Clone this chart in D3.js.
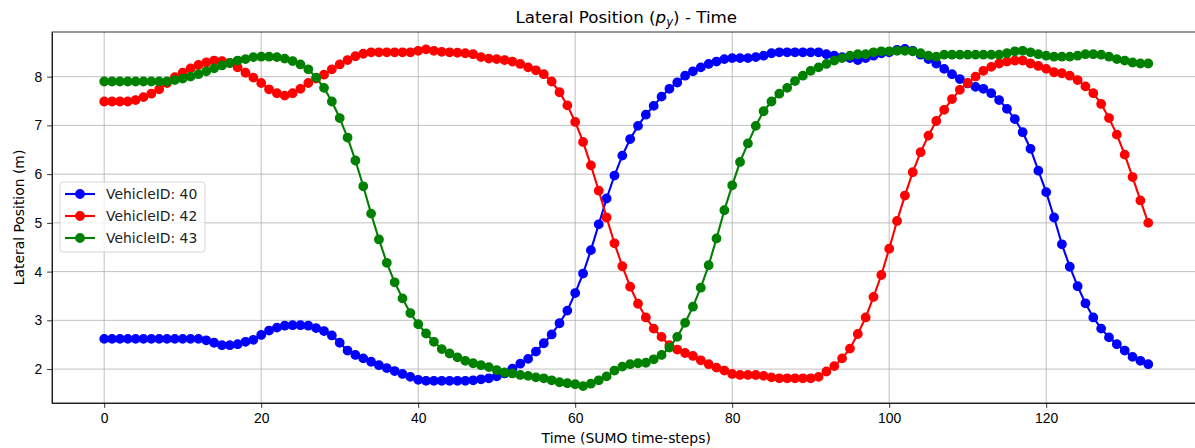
<!DOCTYPE html>
<html>
<head>
<meta charset="utf-8">
<script src="https://cdn.jsdelivr.net/npm/d3@7/dist/d3.min.js"></script>
<style>
    body { margin: 0; background: #fff; }
    svg { display: block; font-family: "DejaVu Sans", sans-serif; }
    .grid line { stroke: #b0b0b0; stroke-width: 0.8; }
    .axis path, .axis line { stroke: #000; stroke-width: 0.8; }
    .axis text { font-size: 13.9px; fill: #000; }
    .title { font-size: 16.7px; }
    .label { font-size: 13.9px; }
    .legend text { font-size: 13.9px; }
</style>
</head>
<body>
<svg id="chart" width="1195" height="448">
    <g class="chart">
        <g class="grid x"></g>
        <g class="grid y"></g>
        <g class="series"></g>
        <g class="x axis"></g>
        <g class="y axis"></g>
        <g class="legend"></g>
    </g>
</svg>
<script>
/*global d3*/

// time steps 0..133
const timeSteps = d3.range(0, 134);

const vehicle40 = [
    2.62, 2.62, 2.62, 2.62, 2.62, 2.62, 2.62, 2.62, 2.62, 2.62,
    2.62, 2.62, 2.62, 2.59, 2.54, 2.49, 2.49, 2.51, 2.56, 2.60,
    2.70, 2.79, 2.85, 2.89, 2.90, 2.90, 2.89, 2.84, 2.78, 2.69,
    2.54, 2.38, 2.29, 2.22, 2.15, 2.08, 2.02, 1.96, 1.90, 1.84,
    1.78, 1.76, 1.76, 1.76, 1.76, 1.76, 1.76, 1.77, 1.79, 1.81,
    1.85, 1.91, 2.01, 2.11, 2.21, 2.36, 2.53, 2.71, 2.94, 3.20,
    3.56, 3.96, 4.44, 4.97, 5.50, 5.97, 6.38, 6.72, 6.99, 7.22,
    7.40, 7.59, 7.75, 7.88, 8.02, 8.11, 8.19, 8.26, 8.31, 8.36,
    8.38, 8.38, 8.38, 8.40, 8.43, 8.48, 8.50, 8.50, 8.50, 8.50,
    8.50, 8.50, 8.46, 8.43, 8.40, 8.38, 8.34, 8.38, 8.43, 8.48,
    8.50, 8.55, 8.57, 8.53, 8.45, 8.36, 8.27, 8.16, 8.05, 7.95,
    7.86, 7.79, 7.75, 7.66, 7.52, 7.34, 7.13, 6.86, 6.52, 6.07,
    5.63, 5.11, 4.56, 4.10, 3.70, 3.35, 3.06, 2.83, 2.65, 2.51,
    2.38, 2.25, 2.17, 2.10
];

const vehicle42 = [
    7.49, 7.49, 7.49, 7.49, 7.52, 7.58, 7.65, 7.74, 7.87, 7.99,
    8.08, 8.17, 8.24, 8.29, 8.33, 8.32, 8.28, 8.19, 8.08, 7.98,
    7.87, 7.74, 7.66, 7.61, 7.66, 7.75, 7.87, 7.96, 8.04, 8.15,
    8.25, 8.34, 8.42, 8.47, 8.50, 8.50, 8.50, 8.50, 8.50, 8.50,
    8.53, 8.56, 8.53, 8.51, 8.50, 8.49, 8.48, 8.46, 8.40, 8.37,
    8.36, 8.34, 8.31, 8.26, 8.19, 8.13, 8.05, 7.90, 7.68, 7.41,
    7.07, 6.66, 6.18, 5.66, 5.11, 4.58, 4.11, 3.69, 3.34, 3.06,
    2.83, 2.66, 2.49, 2.40, 2.33, 2.27, 2.18, 2.10, 2.03, 1.97,
    1.90, 1.88, 1.88, 1.88, 1.86, 1.83, 1.81, 1.81, 1.81, 1.81,
    1.81, 1.84, 1.95, 2.06, 2.22, 2.42, 2.72, 3.06, 3.48, 3.93,
    4.47, 5.04, 5.56, 6.04, 6.45, 6.79, 7.09, 7.32, 7.54, 7.73,
    7.87, 8.00, 8.12, 8.20, 8.27, 8.31, 8.33, 8.33, 8.27, 8.22,
    8.16, 8.09, 8.07, 8.02, 7.93, 7.80, 7.66, 7.44, 7.15, 6.81,
    6.40, 5.94, 5.46, 5.00
];

const vehicle43 = [
    7.90, 7.90, 7.90, 7.90, 7.90, 7.90, 7.90, 7.90, 7.90, 7.93,
    7.96, 8.00, 8.05, 8.11, 8.17, 8.23, 8.28, 8.33, 8.36, 8.40,
    8.41, 8.41, 8.40, 8.37, 8.32, 8.25, 8.15, 7.98, 7.77, 7.49,
    7.15, 6.75, 6.28, 5.75, 5.19, 4.66, 4.18, 3.78, 3.45, 3.15,
    2.92, 2.73, 2.56, 2.41, 2.32, 2.24, 2.17, 2.12, 2.08, 2.04,
    1.98, 1.93, 1.91, 1.88, 1.86, 1.83, 1.81, 1.77, 1.73, 1.71,
    1.69, 1.65, 1.70, 1.77, 1.85, 1.97, 2.05, 2.10, 2.12, 2.13,
    2.20, 2.29, 2.44, 2.66, 2.95, 3.28, 3.67, 4.13, 4.68, 5.26,
    5.77, 6.25, 6.63, 6.99, 7.29, 7.49, 7.65, 7.77, 7.91, 8.02,
    8.12, 8.19, 8.26, 8.33, 8.38, 8.43, 8.46, 8.46, 8.50, 8.52,
    8.52, 8.53, 8.53, 8.52, 8.48, 8.43, 8.41, 8.45, 8.45, 8.45,
    8.45, 8.45, 8.45, 8.45, 8.45, 8.48, 8.52, 8.53, 8.50, 8.46,
    8.43, 8.41, 8.41, 8.41, 8.43, 8.46, 8.46, 8.45, 8.41, 8.36,
    8.33, 8.29, 8.27, 8.27
];

const seriesNames = ['VehicleID: 40', 'VehicleID: 42', 'VehicleID: 43'];
const seriesValues = [vehicle40, vehicle42, vehicle43];
const seriesColors = ['#0000ff', '#ff0000', '#008000'];

const xTicks = [0, 20, 40, 60, 80, 100, 120];
const yTicks = [2, 3, 4, 5, 6, 7, 8];

const margin = {top: 32, left: 52, bottom: 45};
const totalHeight = 448;
const plotHeight = totalHeight - margin.top - margin.bottom;
const markerR = 4.2;
const markerEdge = 1.4;

const series = seriesNames.map((name, i) => ({
    name: name,
    color: seriesColors[i],
    points: timeSteps.map((t, j) => ({t: t, v: seriesValues[i][j]}))
}));

// matplotlib style 5% padding around the data
const xExt = d3.extent(timeSteps);
const xPad = (xExt[1] - xExt[0]) * 0.05;
const allValues = [].concat(...seriesValues);
const yExt = d3.extent(allValues);
const yPad = (yExt[1] - yExt[0]) * 0.05;

// the right side of the axes runs past the picture edge
const pxPerStep = 7.85;
const plotWidth = (xExt[1] - xExt[0] + 2 * xPad) * pxPerStep;

const xScale = d3.scaleLinear()
    .domain([xExt[0] - xPad, xExt[1] + xPad])
    .range([0, plotWidth]);
const yScale = d3.scaleLinear()
    .domain([yExt[0] - yPad, yExt[1] + yPad])
    .range([plotHeight, 0]);

const svg = d3.select('#chart');
const chart = svg.select('.chart')
    .attr('transform', 'translate(' + margin.left + ',' + margin.top + ')');

// grid
chart.select('.grid.x').selectAll('line').data(xTicks).enter()
    .append('line')
        .attr('x1', d => xScale(d)).attr('x2', d => xScale(d))
        .attr('y1', 0).attr('y2', plotHeight);
chart.select('.grid.y').selectAll('line').data(yTicks).enter()
    .append('line')
        .attr('x1', 0).attr('x2', plotWidth)
        .attr('y1', d => yScale(d)).attr('y2', d => yScale(d));

// lines + markers, one series at a time
const line = d3.line().x(d => xScale(d.t)).y(d => yScale(d.v));
const groups = chart.select('.series').selectAll('g').data(series).enter().append('g');
groups.append('path')
    .attr('d', d => line(d.points))
    .attr('fill', 'none')
    .attr('stroke', d => d.color)
    .attr('stroke-width', 2.1)
    .attr('stroke-linejoin', 'round');
groups.each(function(s) {
    d3.select(this).selectAll('circle').data(s.points).enter()
        .append('circle')
            .attr('cx', d => xScale(d.t))
            .attr('cy', d => yScale(d.v))
            .attr('r', markerR)
            .attr('fill', s.color)
            .attr('stroke', s.color)
            .attr('stroke-width', markerEdge);
});

// axes
chart.select('.x.axis')
    .attr('transform', 'translate(0,' + plotHeight + ')')
    .call(d3.axisBottom(xScale).tickValues(xTicks).tickSize(4.9).tickPadding(4.9).tickSizeOuter(0));
chart.select('.y.axis')
    .call(d3.axisLeft(yScale).tickValues(yTicks).tickSize(4.9).tickPadding(4.9).tickSizeOuter(0));

// frame
chart.append('rect')
    .attr('width', plotWidth).attr('height', plotHeight)
    .attr('fill', 'none').attr('stroke', '#000').attr('stroke-width', 0.8);

// titles
const title = svg.append('text')
    .attr('class', 'title')
    .attr('x', margin.left + plotWidth / 2)
    .attr('y', 22.5)
    .attr('text-anchor', 'middle');
title.append('tspan').text('Lateral Position (');
title.append('tspan').attr('font-style', 'italic').text('p');
title.append('tspan').attr('font-style', 'italic').attr('font-size', '11.7px').attr('dy', 3).text('y');
title.append('tspan').attr('dy', -3).text(') - Time');

svg.append('text')
    .attr('class', 'label')
    .attr('x', margin.left + plotWidth / 2)
    .attr('y', 443)
    .attr('text-anchor', 'middle')
    .text('Time (SUMO time-steps)');

svg.append('text')
    .attr('class', 'label')
    .attr('transform', 'translate(24,' + (margin.top + plotHeight / 2) + ') rotate(-90)')
    .attr('text-anchor', 'middle')
    .text('Lateral Position (m)');

// legend
const legend = chart.select('.legend').attr('transform', 'translate(8,150)');
legend.append('rect')
    .attr('width', 145).attr('height', 70).attr('rx', 3)
    .attr('fill', '#fff').attr('fill-opacity', 0.8)
    .attr('stroke', '#cccccc').attr('stroke-width', 0.8);
const rows = legend.selectAll('g.row').data(series).enter()
    .append('g').attr('class', 'row')
    .attr('transform', (d, i) => 'translate(0,' + (12 + i * 22) + ')');
rows.append('line')
    .attr('x1', 5).attr('x2', 35)
    .attr('stroke', d => d.color).attr('stroke-width', 2.1);
rows.append('circle')
    .attr('cx', 20).attr('r', markerR)
    .attr('fill', d => d.color)
    .attr('stroke', d => d.color).attr('stroke-width', markerEdge);
rows.append('text')
    .attr('x', 46).attr('dy', '0.35em')
    .attr('fill', '#222')
    .text(d => d.name);
</script>
</body>
</html>
